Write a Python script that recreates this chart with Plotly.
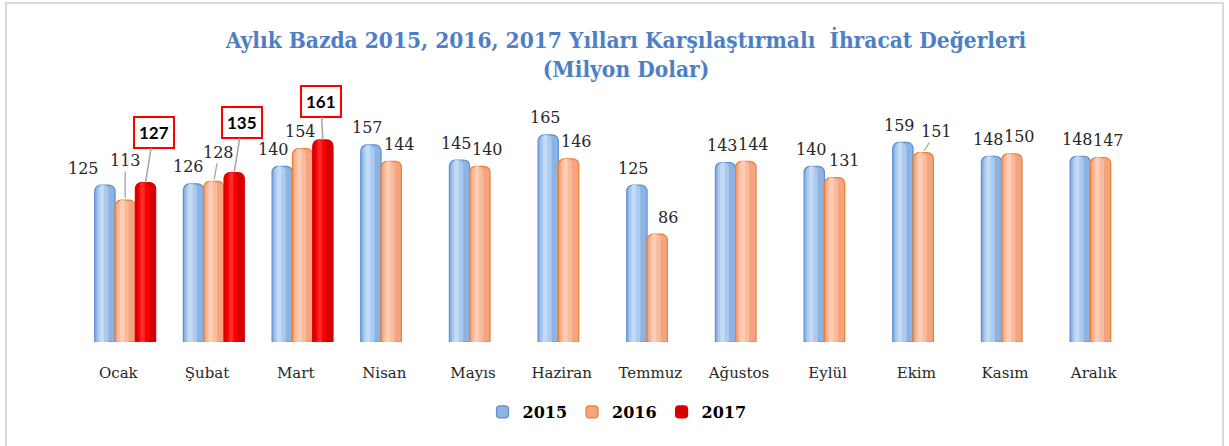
import plotly.graph_objects as go

months = ["Ocak", "Şubat", "Mart", "Nisan", "Mayıs", "Haziran", "Temmuz",
          "Ağustos", "Eylül", "Ekim", "Kasım", "Aralık"]
v2015 = [125, 126, 140, 157, 145, 165, 125, 143, 140, 159, 148, 148]
v2016 = [113, 128, 154, 144, 140, 146, 86, 144, 131, 151, 150, 147]
v2017 = [127, 135, 161, None, None, None, None, None, None, None, None, None]

W = 1229
H = 446
ML, MR, MT, MB = 74, 91, 95, 104
YMAX = 196.8

BW = 0.229
series = [
    dict(name="2015", vals=v2015, off=-0.266, base="#8DB3E2", line="#5B8FD0",
         hi1="#ABCAEF", hi2="#C4DBF6", dx=-3),
    dict(name="2016", vals=v2016, off=-0.037, base="#F4A47E", line="#ED7D31",
         hi1="#FABB9C", hi2="#FDCDB5", dx=8),
    dict(name="2017", vals=v2017, off=0.192, base="#D40000", line="#E00000",
         hi1="#FF0000", hi2="#FF2A2A", dx=0),
]

fig = go.Figure()
n = len(months)
for s in series:
    fig.add_trace(go.Bar(
        x=months, y=s["vals"], name=s["name"],
        width=[BW] * n, offset=[s["off"]] * n,
        marker=dict(color=s["base"], line=dict(color=s["line"], width=1.2)),
        hoverinfo="skip",
    ))
    fig.add_trace(go.Bar(
        x=months, y=s["vals"], showlegend=False,
        width=[BW * 0.55] * n, offset=[s["off"] + BW * 0.12] * n,
        marker=dict(color=s["hi1"], line=dict(width=0)),
        hoverinfo="skip",
    ))
    fig.add_trace(go.Bar(
        x=months, y=s["vals"], showlegend=False,
        width=[BW * 0.22] * n, offset=[s["off"] + BW * 0.24] * n,
        marker=dict(color=s["hi2"], line=dict(width=0)),
        hoverinfo="skip",
    ))

label_font = dict(family="DejaVu Serif", size=16, color="#262626")
annotations = []
# special label placements (xshift overrides / leader lines)
dx_override = {("2015", 0): -21, ("2015", 1): -5, ("2015", 2): -9,
               ("2016", 2): -2, ("2016", 6): 11, ("2016", 8): 10}
leaders = {("2016", 0): (0, -40), ("2016", 1): (5, -29), ("2016", 9): (13, -21)}
boxes = {0: (8, -50), 1: (8, -50), 2: (-2, -38)}

for s in series[:2]:
    for i, v in enumerate(s["vals"]):
        xc = i + s["off"] + BW / 2
        key = (s["name"], i)
        if key in leaders:
            ax, ay = leaders[key]
            annotations.append(dict(
                x=xc, y=v, xref="x", yref="y", text=str(v), showarrow=True,
                ax=ax, ay=ay, arrowhead=0, arrowwidth=1.3, arrowcolor="#A6A6A6",
                standoff=2, font=label_font))
        else:
            annotations.append(dict(
                x=xc, y=v, xref="x", yref="y", text=str(v), showarrow=False,
                xshift=dx_override.get(key, s["dx"]), yshift=17,
                yanchor="middle", font=label_font))

s = series[2]
for i, v in enumerate(s["vals"]):
    if v is None:
        continue
    xc = i + s["off"] + BW / 2
    ax, ay = boxes[i]
    annotations.append(dict(
        x=xc, y=v, xref="x", yref="y", text="<b>%d</b>" % v, showarrow=True,
        ax=ax, ay=ay, arrowhead=0, arrowwidth=1.5, arrowcolor="#A6A6A6",
        standoff=0, bordercolor="#FF0000", borderwidth=2, borderpad=4,
        bgcolor="#FFFFFF",
        font=dict(family="Lato", size=17, color="#000000")))

pw = W - ML - MR
ph = H - MT - MB
border = dict(type="rect", xref="paper", yref="paper",
              x0=(6 - ML) / pw, x1=(1223 - ML) / pw,
              y0=(H - MB - 460) / ph, y1=(H - MB - 3) / ph,
              line=dict(color="#D9D9D9", width=2), fillcolor="rgba(0,0,0,0)",
              layer="below")

fig.update_layout(
    width=W, height=H,
    margin=dict(l=ML, r=MR, t=MT, b=MB),
    paper_bgcolor="white", plot_bgcolor="white",
    barmode="overlay", barcornerradius=6,
    title=dict(
        text="Aylık Bazda 2015, 2016, 2017 Yılları Karşılaştırmalı  İhracat Değerleri<br>(Milyon Dolar)",
        x=626 / W, xanchor="center", y=1 - 48 / H, yanchor="middle",
        font=dict(family="DejaVu Serif Condensed", size=22.5, color="#4E7FC4",
                  weight="bold")),
    xaxis=dict(type="category", range=[-0.5, 11.5], showgrid=False,
               showline=False, zeroline=False, ticks="", ticklabelstandoff=20,
               tickfont=dict(family="DejaVu Serif", size=15, color="#262626"),
               fixedrange=True),
    yaxis=dict(range=[0, YMAX], showgrid=False, showticklabels=False,
               zeroline=False, showline=False, fixedrange=True),
    legend=dict(orientation="h", x=(617 - ML) / pw, xanchor="center",
                y=(H - MB - 412) / ph, yanchor="middle",
                font=dict(family="DejaVu Serif", size=16, color="#000000",
                          weight="bold"),
                itemwidth=30, tracegroupgap=0),
    annotations=annotations,
    shapes=[border],
    showlegend=True,
)

fig.write_html("out.html", config={"displayModeBar": False},
               post_script="document.body.style.margin='0';")
